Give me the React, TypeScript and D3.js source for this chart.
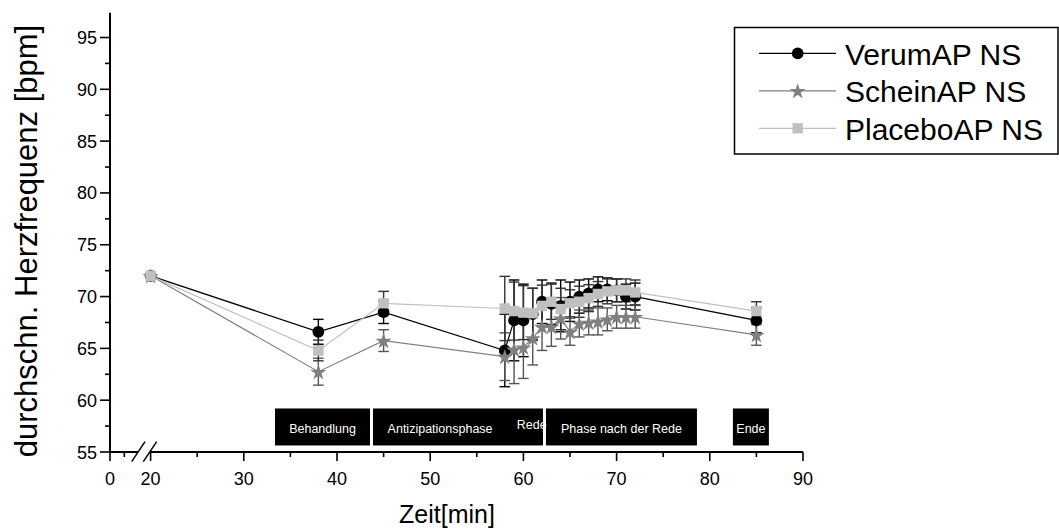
import React from 'react';
import * as d3 from 'd3';

const timePoints = [20, 38, 45, 58, 59, 60, 61, 62, 63, 64, 65, 66, 67, 68, 69, 70, 71, 72, 85];
const verumMean = [72.0, 66.6, 68.5, 64.8, 67.7, 67.7, 68.3, 69.5, 69.3, 69.1, 69.5, 70.0, 70.3, 70.7, 70.7, 70.6, 70.0, 70.0, 67.7];
const verumErr = [0, 1.2, 1.1, 3.5, 3.9, 3.5, 2.5, 2.1, 2.0, 2.5, 1.9, 1.6, 1.4, 1.2, 1.1, 1.1, 1.2, 1.3, 1.2];
const scheinMean = [72.0, 62.75, 65.75, 64.2, 64.9, 65.1, 66.0, 67.1, 67.1, 67.9, 66.6, 67.4, 67.5, 67.6, 67.8, 68.05, 68.05, 68.05, 66.3];
const scheinErr = [0, 1.3, 1.05, 2.3, 3.3, 3.0, 2.6, 2.3, 1.9, 2.0, 1.3, 1.3, 1.2, 1.3, 1.1, 1.1, 1.1, 1.1, 1.0];
const placeboMean = [72.0, 64.8, 69.35, 68.85, 68.6, 68.45, 68.4, 69.1, 69.5, 68.8, 69.35, 69.5, 69.85, 70.25, 70.5, 70.6, 70.6, 70.4, 68.6];
const placeboErr = [0, 1.0, 1.15, 3.1, 2.8, 2.6, 2.4, 2.0, 1.7, 2.0, 1.3, 1.5, 1.3, 1.2, 1.2, 1.1, 1.1, 1.2, 0.9];

const seriesNames = ['VerumAP NS', 'ScheinAP NS', 'PlaceboAP NS'];

const yTicks = [55, 60, 65, 70, 75, 80, 85, 90, 95];
const yMinorTicks = [57.5, 62.5, 67.5, 72.5, 77.5, 82.5, 87.5, 92.5];
const xTicksMain = [20, 30, 40, 50, 60, 70, 80, 90];
const xMinorMain = [25, 35, 45, 55, 65, 75, 85];
const xTicksLeft = [0];
const xMinorLeft = [5];

const phaseStart = [33.35, 43.86, 62.42, 82.48];
const phaseEnd = [43.54, 62.1, 78.62, 86.34];
const phaseLabels = ['Behandlung', 'Antizipationsphase', 'Rede', 'Phase nach der Rede', 'Ende'];
const phaseLabelX = [38.45, 51.06, 60.9, 70.52, 84.41];
const phaseLabelY = [57.2, 57.2, 57.6, 57.2, 57.2];
const phaseBottom = 55.63;
const phaseTop = 59.2;

const FONT = '"Liberation Sans", Arial, Helvetica, sans-serif';

export default function App() {
  const x = d3.scaleLinear().domain([20, 90]).range([150.6, 803]);
  const xLeft = d3.scaleLinear().domain([0, 5]).range([110, 124.3]);
  const y = d3.scaleLinear().domain([55, 95]).range([452, 37.5]);
  const yTop = y(97.4);
  const axisY = y(55);
  const axisX = xLeft(0);

  const series = [
    { name: seriesNames[0], mean: verumMean, err: verumErr, line: '#000000', fill: '#000000', bar: '#000000', shape: 'circle' },
    { name: seriesNames[1], mean: scheinMean, err: scheinErr, line: '#808080', fill: '#808080', bar: '#555555', shape: 'star' },
    { name: seriesNames[2], mean: placeboMean, err: placeboErr, line: '#c0c0c0', fill: '#c0c0c0', bar: '#333333', shape: 'square' },
  ];

  const lineGen = d3.line<number>().x((_, i) => x(timePoints[i])).y((d) => y(d));
  const starPath = d3.symbol().type(d3.symbolStar).size(80)() as string;

  const marker = (shape: string, cx: number, cy: number, fill: string, key: string) => {
    if (shape === 'circle') return <circle key={key} cx={cx} cy={cy} r={5.9} fill={fill} />;
    if (shape === 'square') return <rect key={key} x={cx - 5.2} y={cy - 5.2} width={10.4} height={10.4} fill={fill} />;
    return <path key={key} d={starPath} transform={`translate(${cx},${cy + 0.8})`} fill={fill} />;
  };

  const capHalf = 5.3;

  return (
    <svg width={1059} height={532} style={{ position: 'absolute', left: 0, top: 0, background: '#fff' }} fontFamily={FONT}>
      <rect x={0} y={0} width={1059} height={532} fill="#fff" />

      {/* phase boxes */}
      {phaseStart.map((s, i) => (
        <rect key={'pb' + i} x={x(s)} y={y(phaseTop)} width={x(phaseEnd[i]) - x(s)} height={y(phaseBottom) - y(phaseTop)} fill="#000" />
      ))}
      {phaseLabels.map((t, i) => (
        <text key={'pl' + i} x={x(phaseLabelX[i])} y={y(phaseLabelY[i])} fill="#fff" fontSize={12.5} textAnchor="middle" dominantBaseline="central">{t}</text>
      ))}

      {/* lines */}
      {series.map((s) => (
        <path key={'l' + s.name} d={lineGen(s.mean) as string} fill="none" stroke={s.line} strokeWidth={1.2} />
      ))}

      {/* error bars */}
      {series.map((s) => (
        <g key={'e' + s.name} stroke={s.bar} strokeWidth={1.4}>
          {s.mean.map((m, i) => {
            if (!s.err[i]) return null;
            const cx = x(timePoints[i]);
            const y1 = y(m + s.err[i]);
            const y2 = y(m - s.err[i]);
            return (
              <g key={i}>
                <line x1={cx} x2={cx} y1={y1} y2={y2} />
                <line x1={cx - capHalf} x2={cx + capHalf} y1={y1} y2={y1} />
                <line x1={cx - capHalf} x2={cx + capHalf} y1={y2} y2={y2} />
              </g>
            );
          })}
        </g>
      ))}

      {/* markers */}
      {series.map((s) => (
        <g key={'m' + s.name}>
          {s.mean.map((m, i) => marker(s.shape, x(timePoints[i]), y(m), s.fill, s.name + i))}
        </g>
      ))}

      {/* y axis */}
      <line x1={axisX} x2={axisX} y1={yTop} y2={axisY + 1} stroke="#000" strokeWidth={2} />
      {yTicks.map((t) => (
        <g key={'yt' + t}>
          <line x1={axisX - 10} x2={axisX} y1={y(t)} y2={y(t)} stroke="#000" strokeWidth={1.6} />
          <text x={axisX - 13} y={y(t) + 6.5} fontSize={18} textAnchor="end">{t}</text>
        </g>
      ))}
      {yMinorTicks.map((t) => (
        <line key={'ym' + t} x1={axisX - 5} x2={axisX} y1={y(t)} y2={y(t)} stroke="#000" strokeWidth={1.6} />
      ))}

      {/* x axis with break */}
      <line x1={axisX} x2={138} y1={axisY} y2={axisY} stroke="#000" strokeWidth={2} />
      <line x1={150} x2={x(90)} y1={axisY} y2={axisY} stroke="#000" strokeWidth={2} />
      <line x1={131.7} y1={461.7} x2={145} y2={441.7} stroke="#000" strokeWidth={1.5} />
      <line x1={143.3} y1={461.7} x2={156.7} y2={441.7} stroke="#000" strokeWidth={1.5} />
      {xTicksLeft.map((t) => (
        <g key={'xl' + t}>
          <line x1={xLeft(t)} x2={xLeft(t)} y1={axisY} y2={axisY + 9} stroke="#000" strokeWidth={1.6} />
          <text x={xLeft(t)} y={axisY + 33} fontSize={18} textAnchor="middle">{t}</text>
        </g>
      ))}
      {xMinorLeft.map((t) => (
        <line key={'xlm' + t} x1={xLeft(t)} x2={xLeft(t)} y1={axisY} y2={axisY + 5} stroke="#000" strokeWidth={1.6} />
      ))}
      {xTicksMain.map((t) => (
        <g key={'xt' + t}>
          <line x1={x(t)} x2={x(t)} y1={axisY} y2={axisY + 9} stroke="#000" strokeWidth={1.6} />
          <text x={x(t)} y={axisY + 33} fontSize={18} textAnchor="middle">{t}</text>
        </g>
      ))}
      {xMinorMain.map((t) => (
        <line key={'xm' + t} x1={x(t)} x2={x(t)} y1={axisY} y2={axisY + 5} stroke="#000" strokeWidth={1.6} />
      ))}

      {/* axis titles */}
      <text x={447} y={523} fontSize={25} textAnchor="middle">Zeit[min]</text>
      <text transform={`translate(37,241) rotate(-90)`} fontSize={31} textAnchor="middle">durchschn. Herzfrequenz [bpm]</text>

      {/* legend */}
      <rect x={734.5} y={27.5} width={323.5} height={126.5} fill="#fff" stroke="#000" strokeWidth={1.5} />
      {series.map((s, i) => {
        const ly = 53.3 + i * 37.5;
        return (
          <g key={'lg' + i}>
            <line x1={759} x2={836} y1={ly} y2={ly} stroke={s.line} strokeWidth={1.2} />
            {marker(s.shape, 797.7, ly, s.fill, 'lgm' + i)}
            <text x={845} y={ly + 1} fontSize={30} dominantBaseline="central">{s.name}</text>
          </g>
        );
      })}
    </svg>
  );
}
